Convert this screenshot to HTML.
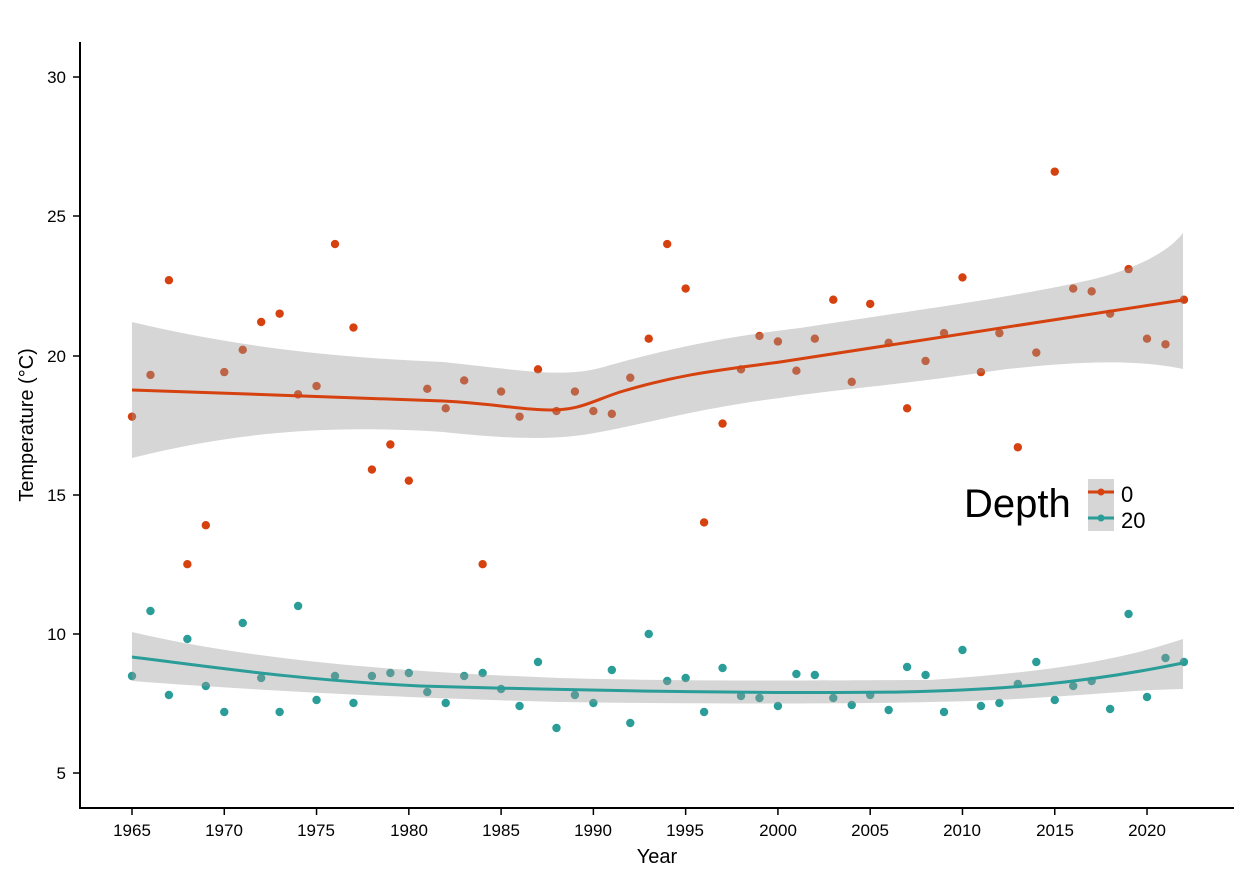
<!DOCTYPE html>
<html><head><meta charset="utf-8"><style>
html,body{margin:0;padding:0;background:#fff;}
svg{display:block;font-family:"Liberation Sans",sans-serif;}
</style></head><body>
<svg id="s" width="1251" height="885" viewBox="0 0 1251 885" xmlns="http://www.w3.org/2000/svg">
<rect width="1251" height="885" fill="#fff"/>
<g id="pts"></g>
<!-- bands -->
<path d="M132,322 C250,350 350,358 443,362 C520,370 560,378 600,368 C680,345 740,335 800,328 C900,312 1000,300 1090,280 C1140,268 1170,250 1183,233 L1183,369 C1150,362 1100,358 1000,370 C900,385 830,390 780,398 C700,408 640,425 600,432 C560,440 520,440 443,432 C350,426 250,428 132,458 Z" fill="#999" fill-opacity="0.4"/>
<path d="M132,632 C250,660 400,672 560,678 C700,682 850,680 930,680 C1050,672 1120,660 1183,639 L1183,689 C1120,690 1050,700 930,702 C850,704 700,704 560,702 C400,698 250,690 132,681 Z" fill="#999" fill-opacity="0.4"/>
<!-- smooth lines -->
<path d="M132,390 C250,394 380,398 443,401 C500,404 520,410 550,410 C580,410 590,402 620,392 C680,374 720,370 780,362 C880,346 1000,328 1183,300" fill="none" stroke="#d5410f" stroke-width="3"/>
<path d="M132,657 C220,668 300,680 420,686 C560,690 760,694 900,692 C1000,690 1080,684 1183,663" fill="none" stroke="#2a9d98" stroke-width="3"/>
<!-- axes -->
<line x1="80" y1="42" x2="80" y2="809" stroke="#000" stroke-width="2"/>
<line x1="79" y1="808" x2="1234" y2="808" stroke="#000" stroke-width="2"/>
<g id="ticks" stroke="#000" stroke-width="1.5"></g>
<g font-size="17" fill="#000" text-anchor="end">
<text x="66" y="83">30</text><text x="66" y="222">25</text><text x="66" y="362">20</text>
<text x="66" y="501">15</text><text x="66" y="640">10</text><text x="66" y="779">5</text>
</g>
<g font-size="17" fill="#000" text-anchor="middle">
<text x="132" y="836">1965</text><text x="224" y="836">1970</text><text x="316" y="836">1975</text>
<text x="409" y="836">1980</text><text x="501" y="836">1985</text><text x="593" y="836">1990</text>
<text x="685" y="836">1995</text><text x="778" y="836">2000</text><text x="870" y="836">2005</text>
<text x="962" y="836">2010</text><text x="1055" y="836">2015</text><text x="1147" y="836">2020</text>
</g>
<text x="657" y="863" font-size="20" text-anchor="middle">Year</text>
<text transform="translate(33,425) rotate(-90)" font-size="20" text-anchor="middle">Temperature (°C)</text>
<!-- legend -->
<text x="964" y="517" font-size="40">Depth</text>
<rect x="1088" y="479" width="26" height="52" fill="#d6d6d6"/>
<line x1="1088" y1="492" x2="1114" y2="492" stroke="#d5410f" stroke-width="3"/>
<circle cx="1101" cy="492" r="3.5" fill="#d5410f"/>
<line x1="1088" y1="518" x2="1114" y2="518" stroke="#2a9d98" stroke-width="3"/>
<circle cx="1101" cy="518" r="3.5" fill="#2a9d98"/>
<text x="1121" y="502" font-size="22">0</text>
<text x="1121" y="528" font-size="22">20</text>
</svg>
<script>
var X=function(yr){return 132+(yr-1965)*18.455;};
var Y=function(v){return 773-(v-5)*27.84;};
var d0=[17.8,19.3,22.7,12.5,13.9,19.4,20.2,21.2,21.5,18.6,18.9,24.0,21.0,15.9,16.8,15.5,18.8,18.1,19.1,12.5,18.7,17.8,19.5,18.0,18.7,18.0,17.9,19.2,20.6,24.0,22.4,14.0,17.55,19.5,20.7,20.5,19.45,20.6,22.0,19.05,21.85,20.45,18.1,19.8,20.8,22.8,19.4,20.8,16.7,20.1,26.6,22.4,22.3,21.5,23.1,20.6,20.4,22.0];
var d20=[676,611,695,639,686,712,623,678,712,606,700,676,703,676,673,673,692,703,676,673,689,706,662,728,695,703,670,723,634,681,678,712,668,696,698,706,674,675,698,705,695,710,667,675,712,650,706,703,684,662,700,686,681,709,614,697,658,662];
var g=document.getElementById('pts'),h='';
for(var i=0;i<58;i++){var x=X(1965+i);
h+='<circle cx="'+x+'" cy="'+Y(d0[i])+'" r="4.2" fill="#d5410f"/>';
h+='<circle cx="'+x+'" cy="'+d20[i]+'" r="4.2" fill="#2a9d98"/>';}
g.innerHTML=h;
var t='',ys=[77,216,356,495,634,773];
for(var j=0;j<6;j++)t+='<line x1="73" y1="'+ys[j]+'" x2="80" y2="'+ys[j]+'"/>';
for(var k=0;k<12;k++){var xx=X(1965+5*k);t+='<line x1="'+xx+'" y1="808" x2="'+xx+'" y2="815"/>';}
document.getElementById('ticks').innerHTML=t;
</script>
</body></html>
